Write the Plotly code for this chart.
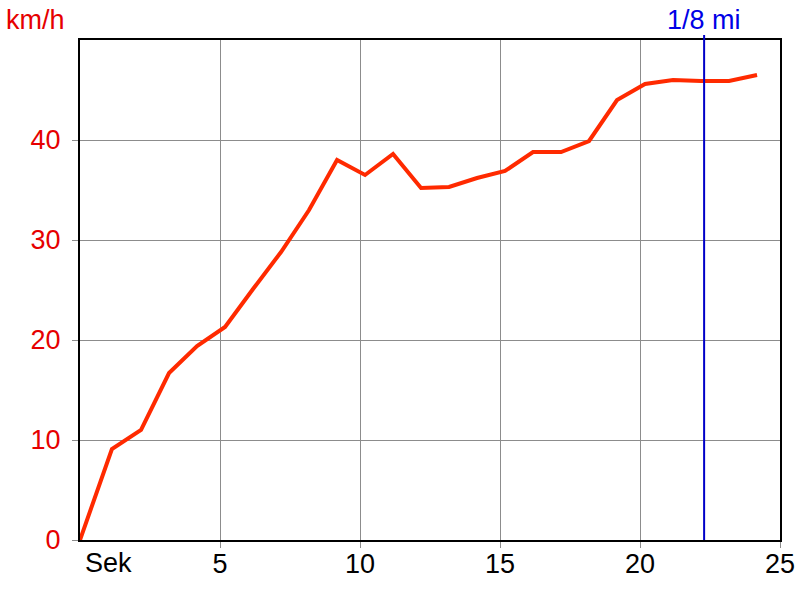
import plotly.graph_objects as go

time_s = [0, 1.14, 2.18, 3.18, 4.18, 5.18, 6.18, 7.18, 8.18, 9.18, 10.18, 11.18,
          12.18, 13.18, 14.18, 15.18, 16.18, 17.18, 18.18, 19.18, 20.18, 21.18,
          22.18, 23.18, 24.18]
speed_kmh = [0, 9.1, 11.0, 16.7, 19.4, 21.3, 25.1, 28.8, 33.0, 38.0, 36.5, 38.6,
             35.2, 35.3, 36.2, 36.9, 38.8, 38.8, 39.9, 44.0, 45.6, 46.0,
             45.9, 45.9, 46.5]
eighth_mile_t = 22.29
x_ticks = [5, 10, 15, 20, 25]
y_ticks = [0, 10, 20, 30, 40]

FONT = "Liberation Sans"
FS = 27

fig = go.Figure()
fig.add_trace(go.Scatter(x=time_s, y=speed_kmh, mode="lines",
                         line=dict(color="#ff2a00", width=4), hoverinfo="skip"))

fig.add_shape(type="line", xref="x", yref="paper", x0=eighth_mile_t, x1=eighth_mile_t,
              y0=0, y1=1.01, line=dict(color="#0000c8", width=2))

fig.add_annotation(x=eighth_mile_t, xref="x", y=1.0, yref="paper", yanchor="bottom",
                   yshift=3, text="1/8 mi", showarrow=False,
                   font=dict(color="#0000e6", size=FS, family=FONT))
fig.add_annotation(x=0, xref="paper", y=1.0, yref="paper",
                   text="km/h", showarrow=False, xanchor="left", yanchor="bottom",
                   xshift=-76, yshift=3,
                   font=dict(color="#e60000", size=FS, family=FONT))
fig.add_annotation(x=0, xref="x", y=0, yref="paper", text="Sek", showarrow=False,
                   xanchor="left", yanchor="top", xshift=3, yshift=-6,
                   font=dict(color="black", size=FS, family=FONT))

fig.update_layout(
    width=800, height=600,
    margin=dict(l=80, r=20, t=40, b=60, autoexpand=False),
    plot_bgcolor="white", paper_bgcolor="white",
    showlegend=False,
    font=dict(family=FONT, size=FS),
)
fig.update_xaxes(range=[0, 25], tickvals=x_ticks, showgrid=True, gridcolor="#8c8c8c",
                 gridwidth=1, showline=True, linecolor="black", linewidth=2, mirror=True,
                 tickfont=dict(color="black", size=FS), ticks="outside", ticklen=6,
                 tickcolor="#8c8c8c", tickwidth=1, ticklabelstandoff=-7,
                 zeroline=False, automargin=False)
fig.update_yaxes(range=[0, 50], tickvals=y_ticks, showgrid=True, gridcolor="#8c8c8c",
                 gridwidth=1, showline=True, linecolor="black", linewidth=2, mirror=True,
                 tickfont=dict(color="#e60000", size=FS), ticks="outside", ticklen=6,
                 tickcolor="#8c8c8c", tickwidth=1, ticklabelstandoff=6,
                 zeroline=False, automargin=False)

fig.write_html("out.html", config={"displayModeBar": False},
               post_script="document.body.style.margin='0';")
